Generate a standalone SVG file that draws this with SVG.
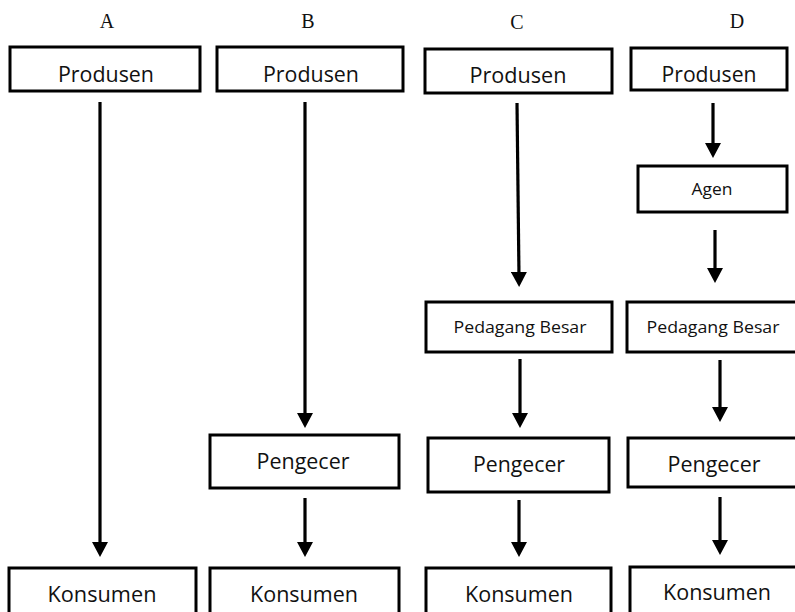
<svg xmlns="http://www.w3.org/2000/svg" width="795" height="612" viewBox="0 0 795 612">
<style>
.box{fill:#fff;stroke:#000;stroke-width:3}
.t{font-family:"Open Sans","Liberation Sans",sans-serif;fill:#111;text-anchor:middle}
.big{font-size:21px}
.mid{font-size:17px}
.sm{font-size:17px}
.hd{font-family:"Liberation Serif","Times New Roman",serif;font-size:20px;fill:#111;text-anchor:middle}
.arr{stroke:#000;stroke-width:3.2;fill:none;marker-end:url(#ah)}
</style>
<defs>
<marker id="ah" viewBox="0 0 15 16" refX="5" refY="8" markerWidth="15" markerHeight="16" markerUnits="userSpaceOnUse" orient="auto">
<path d="M0,0 L15,8 L0,16 z" fill="#000"/>
</marker>
</defs>
<rect width="795" height="612" fill="#fff"/>
<g id="headers">
<text class="hd" x="107" y="28">A</text>
<text class="hd" x="308" y="28">B</text>
<text class="hd" x="517" y="29">C</text>
<text class="hd" x="737" y="28">D</text>
</g>
<g id="connectors">
<line class="arr" x1="100" y1="102" x2="100" y2="547"/>
<line class="arr" x1="305" y1="102" x2="305" y2="418"/>
<line class="arr" x1="305" y1="498" x2="305" y2="547"/>
<line class="arr" x1="517" y1="103" x2="519" y2="277"/>
<line class="arr" x1="520" y1="359" x2="520" y2="418"/>
<line class="arr" x1="519" y1="500" x2="519" y2="547"/>
<line class="arr" x1="713" y1="103" x2="713" y2="148"/>
<line class="arr" x1="715" y1="230" x2="715" y2="273"/>
<line class="arr" x1="720" y1="360" x2="720" y2="412"/>
<line class="arr" x1="720" y1="497" x2="720" y2="545"/>
</g>
<g id="a-produsen"><rect class="box" x="10" y="47" width="190" height="44"/><text class="t big" x="106" y="82" textLength="96" lengthAdjust="spacingAndGlyphs">Produsen</text></g>
<g id="a-konsumen"><rect class="box" x="9" y="568" width="187" height="50"/><text class="t big" x="102" y="602" textLength="109" lengthAdjust="spacingAndGlyphs">Konsumen</text></g>
<g id="b-produsen"><rect class="box" x="217" y="47" width="186" height="44"/><text class="t big" x="311" y="82" textLength="96" lengthAdjust="spacingAndGlyphs">Produsen</text></g>
<g id="b-pengecer"><rect class="box" x="210" y="435" width="189" height="53"/><text class="t big" x="303" y="469" textLength="93" lengthAdjust="spacingAndGlyphs">Pengecer</text></g>
<g id="b-konsumen"><rect class="box" x="210" y="568" width="189" height="50"/><text class="t big" x="304" y="602" textLength="108" lengthAdjust="spacingAndGlyphs">Konsumen</text></g>
<g id="c-produsen"><rect class="box" x="425" y="49" width="187" height="44"/><text class="t big" x="518" y="83" textLength="97" lengthAdjust="spacingAndGlyphs">Produsen</text></g>
<g id="c-pedagang"><rect class="box" x="426" y="302" width="186" height="50"/><text class="t sm" x="520" y="333" textLength="133" lengthAdjust="spacingAndGlyphs">Pedagang Besar</text></g>
<g id="c-pengecer"><rect class="box" x="428" y="438" width="181" height="54"/><text class="t big" x="519" y="472" textLength="92" lengthAdjust="spacingAndGlyphs">Pengecer</text></g>
<g id="c-konsumen"><rect class="box" x="426" y="568" width="185" height="50"/><text class="t big" x="519" y="602" textLength="108" lengthAdjust="spacingAndGlyphs">Konsumen</text></g>
<g id="d-produsen"><rect class="box" x="631" y="48" width="156" height="42"/><text class="t big" x="709" y="82" textLength="95" lengthAdjust="spacingAndGlyphs">Produsen</text></g>
<g id="d-agen"><rect class="box" x="638" y="166" width="149" height="46"/><text class="t mid" x="712" y="195" textLength="41" lengthAdjust="spacingAndGlyphs">Agen</text></g>
<g id="d-pedagang"><rect class="box" x="627" y="302" width="175" height="50"/><text class="t sm" x="713" y="333" textLength="133" lengthAdjust="spacingAndGlyphs">Pedagang Besar</text></g>
<g id="d-pengecer"><rect class="box" x="628" y="438" width="174" height="49"/><text class="t big" x="714" y="472" textLength="93" lengthAdjust="spacingAndGlyphs">Pengecer</text></g>
<g id="d-konsumen"><rect class="box" x="630" y="567" width="172" height="50"/><text class="t big" x="717" y="600" textLength="108" lengthAdjust="spacingAndGlyphs">Konsumen</text></g>
</svg>
